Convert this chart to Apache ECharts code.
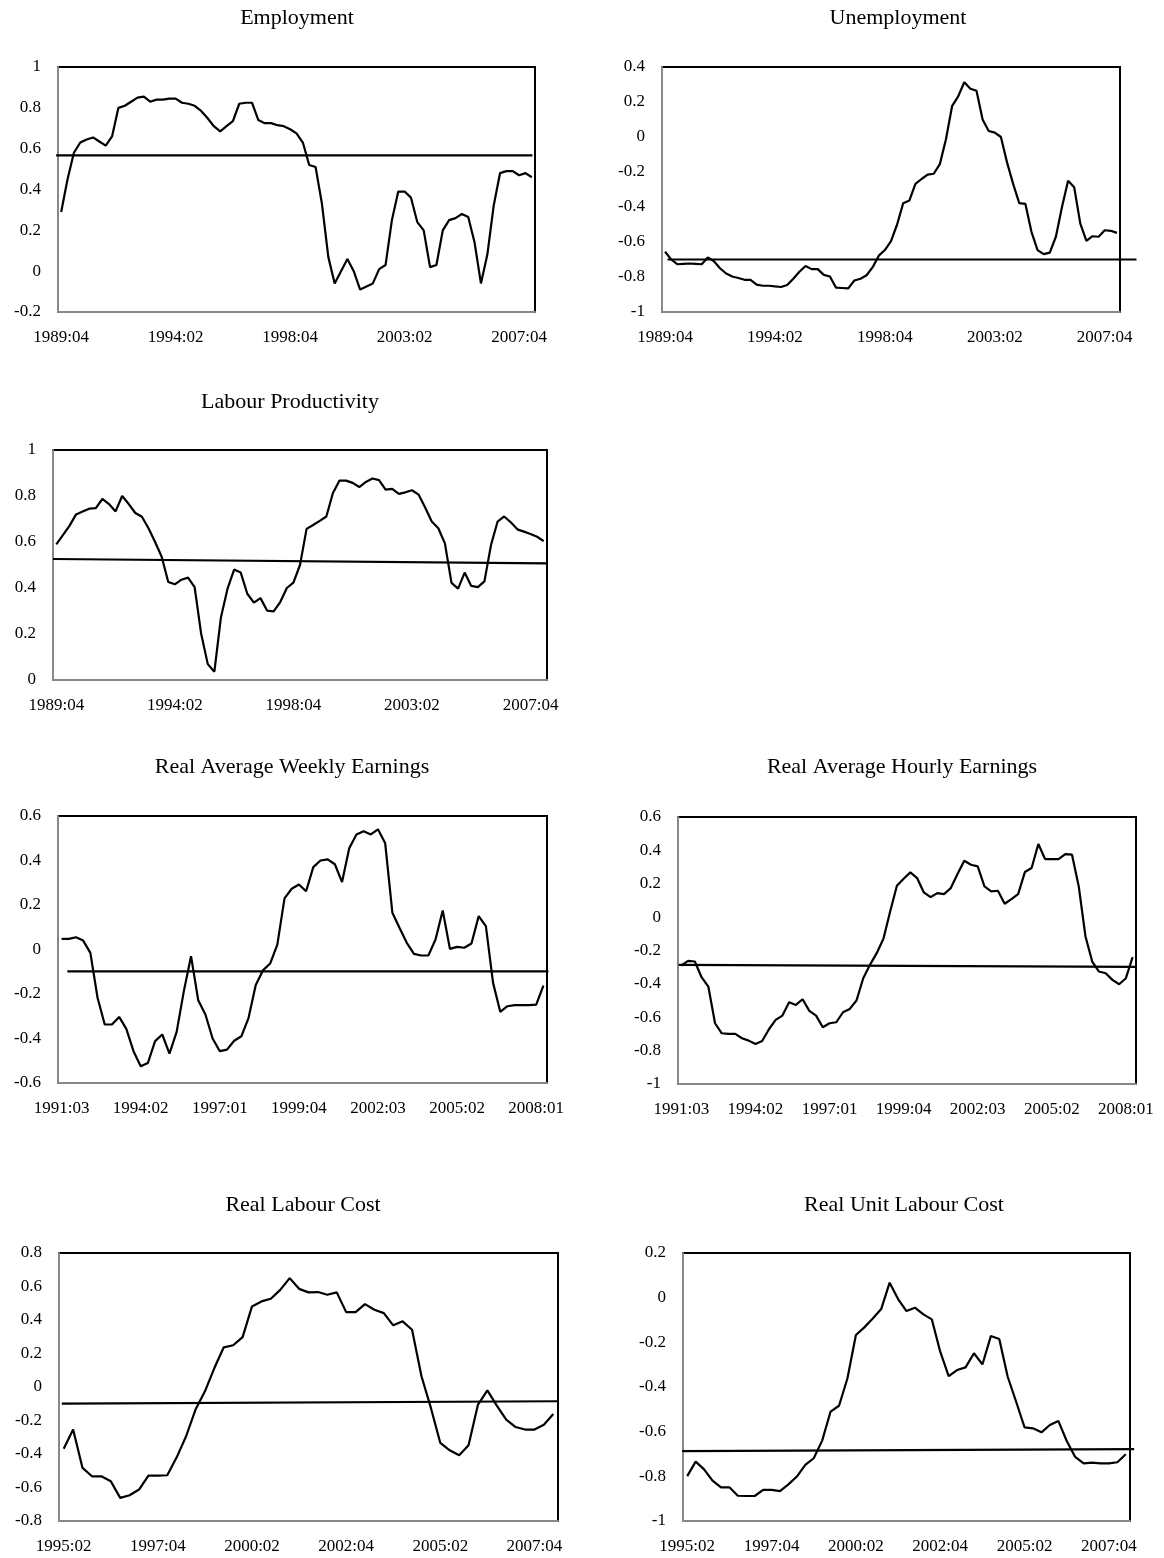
<!DOCTYPE html>
<html>
<head>
<meta charset="utf-8">
<script src="https://cdn.jsdelivr.net/npm/echarts@6/dist/echarts.min.js"></script>
<style>
  html, body { margin: 0; padding: 0; background: #fff; }
  #main { width: 1164px; height: 1558px; }
</style>
</head>
<body>
<div id="main"></div>
<script>
// quarter labels like 1989:04
function quarters(year, q, n) {
  const out = []
  for (let i = 0; i < n; i++) {
    out.push(year + ':0' + q)
    q++
    if (q > 4) { q = 1; year++ }
  }
  return out
}

const cats89 = quarters(1989, 4, 75)
const cats91 = quarters(1991, 3, 68)
const cats95 = quarters(1995, 2, 53)

const ticks89 = ['1989:04', '1994:02', '1998:04', '2003:02', '2007:04']
const ticks91 = ['1991:03', '1994:02', '1997:01', '1999:04', '2002:03', '2005:02', '2008:01']
const ticks95 = ['1995:02', '1997:04', '2000:02', '2002:04', '2005:02', '2007:04']

const employment = [0.29, 0.45, 0.58, 0.63, 0.645, 0.655, 0.635, 0.615, 0.66, 0.80,
  0.81, 0.83, 0.85, 0.855, 0.83, 0.84, 0.84, 0.845, 0.845, 0.825,
  0.82, 0.81, 0.785, 0.75, 0.71, 0.685, 0.71, 0.735, 0.82, 0.825,
  0.825, 0.74, 0.725, 0.725, 0.715, 0.71, 0.695, 0.675, 0.63, 0.52,
  0.51, 0.33, 0.07, -0.06, 0.0, 0.06, 0.0, -0.09, -0.075, -0.06,
  0.01, 0.03, 0.25, 0.39, 0.39, 0.36, 0.24, 0.2, 0.02, 0.03,
  0.2, 0.25, 0.26, 0.28, 0.265, 0.14, -0.06, 0.08, 0.32, 0.48,
  0.49, 0.49, 0.47, 0.48, 0.46]

const unemployment = [-0.655, -0.70, -0.727, -0.725, -0.723, -0.725, -0.727, -0.688, -0.71, -0.75,
  -0.78, -0.797, -0.806, -0.816, -0.816, -0.844, -0.85, -0.85, -0.854, -0.857,
  -0.846, -0.81, -0.77, -0.737, -0.755, -0.755, -0.788, -0.797, -0.861, -0.863,
  -0.865, -0.82, -0.81, -0.79, -0.744, -0.678, -0.646, -0.595, -0.5, -0.378,
  -0.363, -0.268, -0.24, -0.215, -0.21, -0.155, -0.013, 0.176, 0.232, 0.313,
  0.276, 0.264, 0.1, 0.034, 0.025, 0.0, -0.145, -0.268, -0.378, -0.382,
  -0.542, -0.646, -0.669, -0.661, -0.57, -0.4, -0.25, -0.287, -0.495, -0.593,
  -0.567, -0.57, -0.533, -0.536, -0.548]

const productivity = [0.59, 0.63, 0.67, 0.72, 0.733, 0.745, 0.747, 0.787, 0.765, 0.733,
  0.80, 0.765, 0.726, 0.71, 0.66, 0.60, 0.536, 0.426, 0.416, 0.436,
  0.445, 0.404, 0.2, 0.069, 0.036, 0.273, 0.397, 0.48, 0.467, 0.375,
  0.336, 0.356, 0.302, 0.298, 0.339, 0.4, 0.423, 0.5, 0.657, 0.674,
  0.692, 0.711, 0.813, 0.867, 0.867, 0.857, 0.839, 0.861, 0.876, 0.869,
  0.828, 0.831, 0.809, 0.816, 0.825, 0.806, 0.75, 0.689, 0.66, 0.594,
  0.422, 0.397, 0.467, 0.409, 0.404, 0.429, 0.587, 0.689, 0.711, 0.686,
  0.655, 0.645, 0.635, 0.623, 0.604]

const weeklyEarnings = [0.048, 0.048, 0.055, 0.04, -0.015, -0.217, -0.337, -0.337, -0.303, -0.357,
  -0.457, -0.525, -0.51, -0.412, -0.382, -0.468, -0.37, -0.187, -0.03, -0.228,
  -0.292, -0.4, -0.457, -0.45, -0.41, -0.39, -0.307, -0.16, -0.094, -0.063,
  0.022, 0.23, 0.273, 0.292, 0.262, 0.37, 0.4, 0.405, 0.383, 0.303,
  0.455, 0.517, 0.532, 0.517, 0.54, 0.477, 0.165, 0.097, 0.03, -0.02,
  -0.027, -0.027, 0.045, 0.175, 0.003, 0.012, 0.008, 0.027, 0.15, 0.105,
  -0.15, -0.28, -0.255, -0.25, -0.25, -0.25, -0.248, -0.162]

const hourlyEarnings = [-0.29, -0.262, -0.266, -0.36, -0.416, -0.636, -0.696, -0.7, -0.7, -0.726,
  -0.74, -0.76, -0.742, -0.672, -0.616, -0.59, -0.51, -0.526, -0.492, -0.562,
  -0.59, -0.66, -0.636, -0.63, -0.57, -0.55, -0.5, -0.366, -0.286, -0.216,
  -0.13, 0.034, 0.188, 0.23, 0.268, 0.234, 0.148, 0.12, 0.144, 0.138,
  0.174, 0.258, 0.338, 0.314, 0.304, 0.184, 0.154, 0.158, 0.08, 0.108,
  0.138, 0.27, 0.294, 0.438, 0.348, 0.348, 0.348, 0.378, 0.374, 0.184,
  -0.116, -0.266, -0.326, -0.336, -0.376, -0.402, -0.366, -0.24]

const labourCost = [-0.368, -0.254, -0.483, -0.533, -0.533, -0.563, -0.662, -0.646, -0.612, -0.529,
  -0.529, -0.527, -0.42, -0.294, -0.135, -0.026, 0.113, 0.237, 0.249, 0.298,
  0.481, 0.511, 0.527, 0.58, 0.65, 0.586, 0.565, 0.567, 0.551, 0.565,
  0.447, 0.447, 0.495, 0.461, 0.441, 0.368, 0.392, 0.342, 0.064, -0.125,
  -0.334, -0.378, -0.408, -0.348, -0.105, -0.02, -0.111, -0.195, -0.239, -0.254,
  -0.254, -0.225, -0.161]

const unitLabourCost = [-0.799, -0.734, -0.769, -0.819, -0.849, -0.849, -0.887, -0.888, -0.888, -0.861,
  -0.861, -0.866, -0.836, -0.801, -0.749, -0.719, -0.64, -0.51, -0.484, -0.361,
  -0.167, -0.133, -0.093, -0.051, 0.067, -0.006, -0.06, -0.045, -0.075, -0.097,
  -0.242, -0.351, -0.324, -0.312, -0.249, -0.299, -0.172, -0.185, -0.354, -0.466,
  -0.581, -0.585, -0.603, -0.57, -0.552, -0.642, -0.713, -0.742, -0.739, -0.742,
  -0.742, -0.737, -0.701]

// fitted trend lines: [quarter index, value] at each end
const employmentTrend = [[-0.8, 0.567], [74.1, 0.567]]
const unemploymentTrend = [[0.4, -0.70], [77.2, -0.70]]
const productivityTrend = [[-0.5, 0.526], [74.5, 0.507]]
const weeklyTrend = [[0.8, -0.098], [67.7, -0.098]]
const hourlyTrend = [[-0.4, -0.286], [67.5, -0.298]]
const labourCostTrend = [[-0.2, -0.099], [52.5, -0.085]]
const unitCostTrend = [[-0.6, -0.687], [53.0, -0.678]]

const panels = [
  { title: 'Employment', cats: cats89, ticks: ticks89, data: employment, trend: employmentTrend, min: -0.2, max: 1 },
  { title: 'Unemployment', cats: cats89, ticks: ticks89, data: unemployment, trend: unemploymentTrend, min: -1, max: 0.4 },
  { title: 'Labour Productivity', cats: cats89, ticks: ticks89, data: productivity, trend: productivityTrend, min: 0, max: 1 },
  { title: 'Real Average Weekly Earnings', cats: cats91, ticks: ticks91, data: weeklyEarnings, trend: weeklyTrend, min: -0.6, max: 0.6 },
  { title: 'Real Average Hourly Earnings', cats: cats91, ticks: ticks91, data: hourlyEarnings, trend: hourlyTrend, min: -1, max: 0.6 },
  { title: 'Real Labour Cost', cats: cats95, ticks: ticks95, data: labourCost, trend: labourCostTrend, min: -0.8, max: 0.8 },
  { title: 'Real Unit Labour Cost', cats: cats95, ticks: ticks95, data: unitLabourCost, trend: unitCostTrend, min: -1, max: 0.2 }
]

// plot boxes [left, top, width, height] and title centres [x, y]
const boxes = [
  [58, 67, 477, 245],
  [662, 67, 458, 245],
  [53, 450, 494, 230],
  [58, 816, 489, 267],
  [678, 817, 458, 267],
  [59, 1253, 499, 268],
  [683, 1253, 447, 268]
]
const titlePos = [[297, 18], [898, 18], [290, 402], [292, 767], [902, 767], [303, 1205], [904, 1205]]
const PAD = 40 // overlay grid overhang so trend lines can run past the box

const FONT = 'Liberation Serif'
const chart = echarts.init(document.getElementById('main'))
const option = { animation: false, backgroundColor: '#fff', title: [], grid: [], xAxis: [], yAxis: [], series: [] }

panels.forEach((p, i) => {
  const [l, t, w, h] = boxes[i]
  const n = p.cats.length
  const padBins = PAD * n / w
  option.title.push({
    text: p.title, left: titlePos[i][0], top: titlePos[i][1], padding: 0,
    textAlign: 'center', textVerticalAlign: 'middle',
    textStyle: { fontFamily: FONT, fontSize: 22, fontWeight: 'normal', color: '#000' }
  })
  option.grid.push({
    left: l, top: t, width: w, height: h, outerBoundsMode: 'none',
    show: true, borderColor: '#000', borderWidth: 2, backgroundColor: 'transparent'
  })
  option.grid.push({ left: l - PAD, top: t, width: w + 2 * PAD, height: h, outerBoundsMode: 'none', show: false })

  option.xAxis.push({
    type: 'category', gridIndex: 2 * i, data: p.cats, boundaryGap: true,
    axisLine: { onZero: false, lineStyle: { color: '#888', width: 2 } },
    axisTick: { show: false },
    splitLine: { show: false },
    axisLabel: {
      interval: (idx, val) => p.ticks.includes(val),
      margin: 17, fontFamily: FONT, fontSize: 17, color: '#000'
    }
  })
  option.xAxis.push({ type: 'value', gridIndex: 2 * i + 1, show: false, min: -0.5 - padBins, max: n - 0.5 + padBins })

  option.yAxis.push({
    type: 'value', gridIndex: 2 * i, min: p.min, max: p.max, interval: 0.2,
    splitLine: { show: false },
    axisLine: { show: true, onZero: false, lineStyle: { color: '#888', width: 2 } },
    axisTick: { show: false },
    axisLabel: { margin: 17, fontFamily: FONT, fontSize: 17, color: '#000' }
  })
  option.yAxis.push({ type: 'value', gridIndex: 2 * i + 1, show: false, min: p.min, max: p.max })

  option.series.push({
    type: 'line', xAxisIndex: 2 * i, yAxisIndex: 2 * i, data: p.data,
    symbol: 'none', silent: true, lineStyle: { color: '#000', width: 2.2 }
  })
  option.series.push({
    type: 'line', xAxisIndex: 2 * i + 1, yAxisIndex: 2 * i + 1, data: p.trend,
    symbol: 'none', silent: true, clip: false, lineStyle: { color: '#000', width: 2.2 }
  })
})

chart.setOption(option)
</script>
</body>
</html>
